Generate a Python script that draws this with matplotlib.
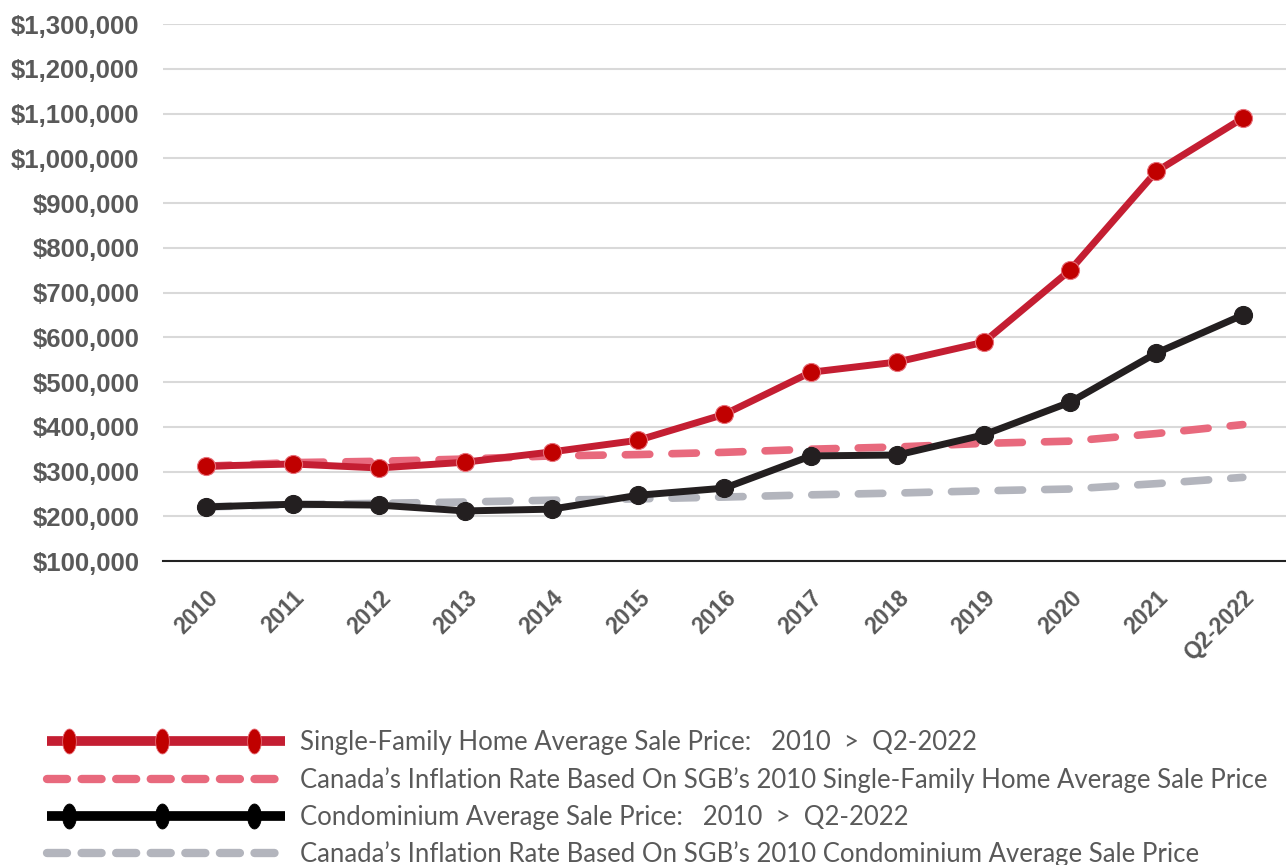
import numpy as np
import matplotlib
matplotlib.use("Agg")
import matplotlib.pyplot as plt
from matplotlib.ticker import FuncFormatter, MultipleLocator
from matplotlib.lines import Line2D
from matplotlib.legend_handler import HandlerLine2D
from matplotlib.path import Path

categories = ["2010", "2011", "2012", "2013", "2014", "2015", "2016", "2017",
              "2018", "2019", "2020", "2021", "Q2-2022"]
sfh_price = [312000, 317000, 308000, 321000, 344000, 370000, 428000, 522000,
             545000, 589000, 750000, 971000, 1090000]
sfh_inflation = [312000, 320000, 323000, 328000, 335000, 338000, 343000, 350000,
                 355000, 363000, 368000, 385000, 405000]
condo_price = [221000, 227000, 225000, 212000, 216000, 247000, 263000, 335000,
               337000, 382000, 455000, 565000, 650000]
condo_inflation = [221000, 226000, 229000, 232000, 236000, 239000, 243000, 248000,
                   252000, 257000, 261000, 273000, 287000]
labels = [
    "Single-Family Home Average Sale Price:   2010  >  Q2-2022",
    "Canada\u2019s Inflation Rate Based On SGB\u2019s 2010 Single-Family Home Average Sale Price",
    "Condominium Average Sale Price:   2010  >  Q2-2022",
    "Canada\u2019s Inflation Rate Based On SGB\u2019s 2010 Condominium Average Sale Price",
]

RED = "#C41E32"
RED_M = "#C00000"
PINK = "#E8697D"
BLACK = "#231F20"
GREY = "#B3B5BD"
TXT = "#595959"
DASH = (3.2, 2.9)


class FullLineHandler(HandlerLine2D):
    """Line over the full handle width, three markers inset from the ends."""

    def __init__(self, pad_left, pad_right, **kw):
        super().__init__(**kw)
        self.pad_left = pad_left
        self.pad_right = pad_right

    def create_artists(self, legend, orig_handle, xdescent, ydescent,
                       width, height, fontsize, trans):
        y = (height - ydescent) / 2
        line = Line2D([-xdescent, -xdescent + width], [y, y])
        self.update_prop(line, orig_handle, legend)
        line.set_marker("None")
        line.set_transform(trans)
        xm = np.linspace(-xdescent + self.pad_left * fontsize,
                         -xdescent + width - self.pad_right * fontsize, 3)
        mk = Line2D(xm, [y] * 3)
        self.update_prop(mk, orig_handle, legend)
        mk.set_linestyle("None")
        mk.set_transform(trans)
        return [line, mk]


fig = plt.figure(figsize=(12.86, 8.65), dpi=100)
ax = fig.add_axes([0.1267, 0.3514, 0.8733, 0.6206])
x = list(range(len(categories)))

ax.plot(x, sfh_inflation, color=PINK, lw=5.5, dashes=DASH,
        dash_capstyle="round", zorder=3, clip_on=False)
ax.plot(x, condo_inflation, color=GREY, lw=5.5, dashes=DASH,
        dash_capstyle="round", zorder=2, clip_on=False)
ax.plot(x, condo_price, color=BLACK, lw=5, marker="o", markersize=13,
        markerfacecolor=BLACK, markeredgecolor=BLACK, markeredgewidth=0.8,
        zorder=4, clip_on=False)
ax.plot(x, sfh_price, color=RED, lw=5, marker="o", markersize=13,
        markerfacecolor=RED_M, markeredgecolor="#E8707A", markeredgewidth=0.8,
        zorder=5, clip_on=False)

ax.set_xlim(-0.5, len(categories) - 0.5)
ax.set_ylim(100000, 1300000)
ax.yaxis.set_major_locator(MultipleLocator(100000))
ax.yaxis.set_major_formatter(FuncFormatter(lambda v, p: f"${v:,.0f}"))
ax.set_xticks(x)
ax.set_xticklabels(categories, rotation=45, ha="right", rotation_mode="anchor")
ax.grid(axis="y", color="#D9D9D9", lw=1.5, zorder=0)
ax.set_axisbelow(True)
for s in ["top", "left", "right"]:
    ax.spines[s].set_visible(False)
ax.spines["bottom"].set_color("#222222")
ax.spines["bottom"].set_linewidth(1.5)
ax.tick_params(axis="y", length=0, pad=17, labelsize=18.5, labelcolor=TXT)
ax.tick_params(axis="x", length=0, pad=18, labelsize=16.5, labelcolor=TXT)
for t in ax.get_yticklabels() + ax.get_xticklabels():
    t.set_fontfamily("Liberation Sans")
    t.set_fontweight("bold")

th = np.linspace(0, 2 * np.pi, 41)
ell = Path(np.column_stack([0.55 * np.cos(th), np.sin(th)]), closed=True)
h1 = Line2D([], [], color=RED, lw=7, solid_capstyle="butt", marker=ell,
            markersize=18, markerfacecolor=RED_M, markeredgecolor="#E8707A",
            markeredgewidth=0.6)
h2 = Line2D([], [], color=PINK, lw=6, dashes=(2.4, 1.75), dash_capstyle="round")
h3 = Line2D([], [], color="#000000", lw=7, solid_capstyle="butt", marker=ell,
            markersize=18, markerfacecolor="#000000", markeredgecolor="#000000",
            markeredgewidth=0.6)
h4 = Line2D([], [], color=GREY, lw=6, dashes=(2.4, 1.75), dash_capstyle="round")

hm = FullLineHandler(pad_left=0.86, pad_right=1.2)
leg = fig.legend([h1, h2, h3, h4], labels, loc="upper left",
                 bbox_to_anchor=(47 / 1286, 0.156), frameon=False,
                 borderpad=0, borderaxespad=0,
                 handlelength=9.26, handletextpad=0.58, labelspacing=0.46,
                 prop={"family": "Lato", "size": 18.5},
                 handler_map={h1: hm, h2: hm, h3: hm, h4: hm})
for t in leg.get_texts():
    t.set_color(TXT)

fig.savefig("out.png", dpi=100)
